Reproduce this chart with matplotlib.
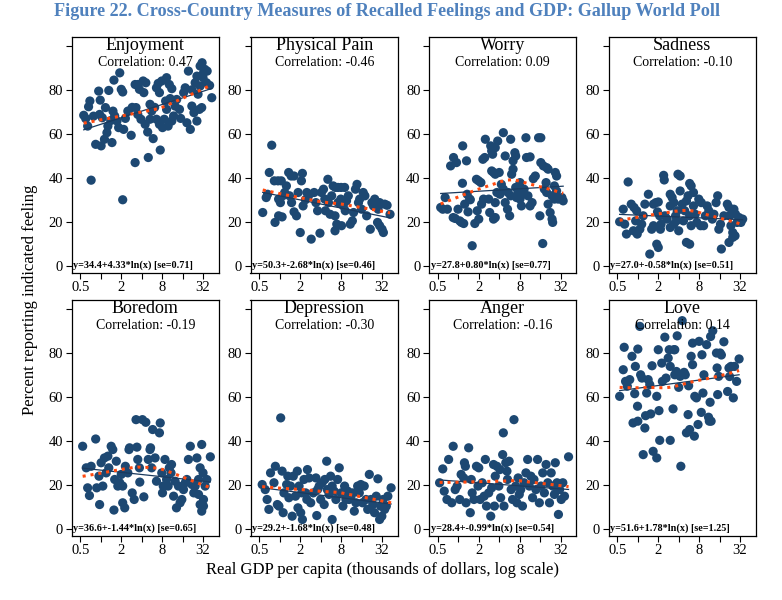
import numpy as np
import matplotlib.pyplot as plt
from matplotlib.ticker import FixedLocator, FixedFormatter, NullLocator
import matplotlib.transforms as mtransforms

plt.rcParams['font.family'] = ['Liberation Serif', 'DejaVu Serif']

feelings = ['Enjoyment', 'Physical Pain', 'Worry', 'Sadness',
            'Boredom', 'Depression', 'Anger', 'Love']
correlations = ['0.47', '-0.46', '0.09', '-0.10', '-0.19', '-0.30', '-0.16', '0.14']
# regression y = a + b*ln(GDP in dollars)
intercepts = [34.4, 50.3, 27.8, 27.0, 36.6, 29.2, 28.4, 51.6]
slopes = [4.33, -2.68, 0.80, -0.58, -1.44, -1.68, -0.99, 1.78]
std_errs = ['0.71', '0.46', '0.77', '0.51', '0.65', '0.48', '0.54', '1.25']

x_ticks = [0.5, 1, 2, 4, 8, 16, 32]
x_tick_labels = ['0.5', '', '2', '', '8', '', '32']
y_ticks = [0, 20, 40, 60, 80, 100]
y_tick_labels = ['0', '20', '40', '60', '80', '']

# (GDP per capita in thousands, percent reporting)
enjoyment = [
    (0.56, 68.4), (0.6, 66.9), (0.66, 72.3), (0.69, 74.9), (0.72, 38.9), (0.84, 55.2),
    (0.93, 79.4), (0.98, 75.3), (0.96, 68.8), (1.05, 67.3), (1.01, 54.5), (1.13, 57.5),
    (1.23, 60.5), (1.17, 71.9), (1.31, 79.7), (1.56, 84.4), (1.51, 70.3), (1.6, 68.1),
    (1.73, 65.8), (1.83, 62.8), (1.46, 56), (1.9, 87.7), (2.0, 80.2), (2.1, 79),
    (2.17, 62), (2.1, 30), (2.5, 70.3), (2.8, 59.3), (3.2, 46.9), (3.2, 82.4),
    (3.5, 82.4), (3.7, 80.2), (3.3, 71.9), (3.5, 68.8), (3.9, 66.6), (4.2, 84),
    (4.6, 83.2), (4.3, 78.7), (5.0, 49.2), (4.9, 60.8), (4.5, 64.3), (5.3, 66.6),
    (5.6, 70.3), (5.3, 73.4), (5.9, 57.8), (6.6, 80.9), (7.0, 82.9), (7.3, 78.7),
    (7.9, 84), (7.5, 52.6), (6.6, 66.6), (7.3, 64.3), (8.1, 62.8), (8.6, 66.6),
    (9.3, 71.1), (9.0, 74.9), (9.3, 85.5), (10.2, 82.4), (11.1, 80.5), (9.8, 63.5),
    (11.1, 65.8), (11.8, 68.1), (12.4, 72.6), (13.1, 75.6), (14.4, 71.1), (16.6, 78.7),
    (17.5, 80.9), (18.5, 65), (20.8, 62), (19.5, 88.5), (21.9, 72.6), (23.5, 69.6),
    (24.5, 83.2), (26, 86.2), (26, 65.8), (28.3, 71.1), (30.6, 71.9), (29, 90.8),
    (31, 92.3), (32.5, 87.7), (34, 89.3), (32, 85.5), (36, 83.2), (36.8, 88.5),
    (29, 81.7), (43, 76.4), (1.27, 63.5), (0.64, 63.5), (0.78, 68), (1.4, 66),
    (2.3, 67), (2.9, 72), (6.2, 72), (10.5, 76), (15, 67), (22, 80), (27, 78), (40, 82),
]
physical_pain = [
    (0.56, 24.2), (0.63, 31), (0.66, 32.5), (0.7, 42.4), (0.76, 54.8), (0.83, 38.6),
    (0.94, 38.6), (1.05, 38.6), (0.85, 19.7), (0.96, 22.7), (1.08, 22.2), (0.96, 30.3),
    (1.02, 28.7), (1.1, 31.8), (1.18, 33.3), (1.25, 36.3), (1.35, 42.4), (1.47, 40.8),
    (1.62, 40.8), (1.39, 31.8), (1.49, 28.7), (1.62, 24.5), (1.76, 22.7), (1.86, 33.3),
    (2.08, 38.6), (2.15, 42), (2.0, 15.1), (2.2, 27.2), (2.38, 30), (2.5, 33.3),
    (2.65, 31.8), (2.9, 12.1), (3.2, 33.3), (3.4, 28.7), (3.6, 25), (3.9, 14.8),
    (4.1, 33.3), (4.4, 34.8), (4.6, 30.3), (4.7, 25), (5.1, 39.3), (5.2, 28.7),
    (5.5, 23.4), (5.8, 31.8), (6.1, 36.3), (6.6, 35.6), (7.2, 35.6), (8, 35.6),
    (9, 35.6), (6.5, 22.7), (6.9, 18.9), (6.5, 15.9), (7.2, 28.7), (7.9, 30.3),
    (8.6, 27.2), (9.2, 25), (9.6, 29.5), (10.2, 31.8), (8.1, 18.2), (10.9, 18.9),
    (11.7, 20.4), (12.2, 24.2), (13, 34.8), (13.7, 37), (14.4, 28.7), (15, 30.3),
    (16, 25.7), (16.9, 33.3), (17.9, 31.8), (19, 22.7), (21.5, 16.6), (22.7, 28.7),
    (23.9, 27.2), (25, 30.3), (26.7, 28.7), (28, 25.7), (29.5, 28.7), (27.5, 19.7),
    (29.5, 18.2), (32, 16.6), (33.5, 15.1), (35, 28), (38, 27.5), (42, 23.4),
]
worry = [
    (0.55, 26.5), (0.59, 25.7), (0.64, 31), (0.69, 25.7), (0.77, 45.4), (0.85, 49.2),
    (0.94, 46.9), (0.84, 21.9), (0.9, 21.5), (0.99, 25.7), (1.05, 20.4), (1.11, 19.7),
    (1.2, 19.2), (1.15, 37.5), (1.16, 54.5), (1.32, 47.7), (1.24, 28), (1.35, 32.5),
    (1.47, 30.3), (1.5, 30), (1.39, 24.5), (1.6, 9.1), (1.75, 19.2), (1.9, 25),
    (2.0, 21.2), (1.85, 39.3), (1.99, 38.6), (2.15, 37.8), (2.3, 48.4), (2.45, 49.2),
    (2.2, 28), (2.35, 30.3), (2.5, 57.5), (2.8, 30.3), (2.9, 24.2), (3.0, 54.5),
    (3.1, 52.2), (3.2, 50.7), (3.1, 43.1), (3.3, 42.4), (3.5, 41.6), (3.3, 21.2),
    (3.5, 21.9), (3.5, 28.7), (3.7, 33.3), (3.5, 53.7), (3.8, 56.7), (4.0, 42.4),
    (4.3, 37), (4.6, 60.5), (4.9, 49.9), (4.1, 32.5), (4.6, 34.8), (4.9, 28.7),
    (5.3, 25.7), (5.7, 22.7), (5.4, 33.3), (5.9, 31.8), (5.9, 57.5), (6.4, 43.9),
    (6.1, 41.6), (6.4, 47.7), (7.0, 49.9), (6.8, 51.4), (7.0, 35.6), (7.6, 33.3),
    (8.1, 30.3), (8.5, 27.2), (7.2, 31), (8.8, 32.5), (8.1, 37.8), (9.9, 58.2),
    (11.4, 49.5), (10.1, 49.2), (9.3, 34.8), (10.6, 31.8), (11.4, 27.2), (12.2, 28.7),
    (12.7, 39.6), (13.6, 40.8), (15.2, 58.2), (16.4, 58.2), (15.9, 22.7), (16.4, 46.9),
    (17.9, 45.4), (20, 44.6), (21, 43.9), (17.5, 10.1), (18.5, 34.8), (19.6, 37.8),
    (20, 33.3), (21, 28), (22.5, 24.2), (24, 21.2), (24.5, 19.7), (24, 31.8),
    (26, 30.3), (26, 36.3), (28, 34), (26.8, 42.4), (28, 40.8), (29.6, 30.3),
    (33.5, 31), (35, 29.5),
]
sadness = [
    (0.54, 20), (0.61, 25.7), (0.64, 18.9), (0.68, 14.4), (0.72, 38.1), (0.8, 28),
    (0.88, 26.5), (0.93, 20.4), (0.96, 25), (0.86, 15.9), (0.98, 14.4), (1.07, 16.6),
    (1.14, 18.9), (1.2, 22.7), (1.27, 28), (1.43, 32.5), (1.5, 5.3), (1.6, 16.6),
    (1.7, 18.2), (1.7, 28), (1.84, 28.7), (2.0, 29), (1.9, 9.8), (2.0, 8.3),
    (1.95, 24.5), (2.1, 22.7), (2.2, 18.9), (2.15, 16.6), (2.4, 41.1), (2.45, 39),
    (2.5, 22.7), (2.7, 21.2), (3.0, 27.2), (3.0, 17.4), (3.0, 32.5), (3.2, 31),
    (3.4, 28.7), (3.6, 22.7), (3.7, 20.4), (3.4, 18.9), (3.8, 25), (3.9, 41.6),
    (4.2, 40.8), (4.0, 15.9), (4.2, 34), (4.5, 28), (4.7, 20.4), (4.9, 25),
    (5.2, 29.5), (5.2, 10.6), (5.8, 9.8), (5.5, 31.8), (5.8, 37.4), (6.1, 36.3),
    (5.8, 22.7), (6.1, 18.2), (6.6, 27.2), (6.6, 33.3), (7.0, 23.4), (7.4, 19.7),
    (7.9, 30.3), (8.6, 28.7), (8.4, 18.2), (9.3, 18.2), (9.9, 22.7), (10.5, 27.2),
    (11.1, 25), (12.5, 21.2), (13.2, 23.4), (14.2, 28.7), (15, 31.8), (15.6, 16.6),
    (16.5, 18.9), (17, 7.6), (18.5, 22.7), (20.8, 28), (22, 26.5), (22.5, 22.7),
    (23.5, 18.2), (25, 15.1), (22, 10.6), (26, 25.7), (27.5, 23.4), (29, 19.7),
    (25, 12.9), (27, 13.6), (31, 21.9), (33, 19.7), (35, 21.2),
]
boredom = [
    (0.54, 37.5), (0.61, 27.7), (0.64, 18.6), (0.68, 15.1), (0.72, 28.4), (0.84, 40.8),
    (0.87, 18.6), (0.94, 23.9), (0.96, 11), (1.01, 30), (1.07, 19.4), (1.13, 32.2),
    (1.2, 25.4), (1.27, 33), (1.31, 27.7), (1.42, 37.5), (1.5, 36), (1.56, 8.5),
    (1.6, 22.4), (1.69, 30.7), (1.78, 19.4), (1.9, 20.9), (2.0, 24.7), (2.1, 19.4),
    (2.1, 11.8), (2.25, 9.5), (2.3, 28.4), (2.5, 25.4), (2.6, 36), (2.65, 36.8),
    (2.9, 16.3), (3.1, 13.3), (3.3, 49.6), (3.4, 37.1), (3.5, 31.5), (3.7, 27.7),
    (3.75, 21.2), (4.1, 49.6), (4.3, 14.5), (4.6, 48.4), (5.0, 31.5), (5.3, 36),
    (5.6, 27.7), (5.4, 36.8), (5.8, 45.1), (6.3, 32.2), (6.6, 21.6), (7.3, 43.6),
    (7.5, 48.1), (7.9, 25.4), (8.3, 19.4), (8.1, 16.3), (8.8, 31.5), (9.3, 22.4),
    (9.8, 19.4), (10.2, 27.7), (10.8, 25.4), (11, 29.2), (11.8, 14.8), (12.4, 21.6),
    (13, 9.5), (13.9, 19.4), (14.7, 11.8), (15.6, 13.3), (16.5, 17.8), (17.5, 20.9),
    (18.5, 22.4), (19.5, 31.5), (20.8, 37.5), (22, 20.1), (23.4, 16.3), (24.5, 19.4),
    (26, 32.2), (27.5, 15.6), (29, 27.7), (30.6, 38.3), (32, 25.4), (30.6, 8),
    (32.5, 13.3), (34.4, 19.4), (36.4, 22.4), (41, 32.7), (29, 11), (27.5, 22.4),
    (32.5, 10.3),
]
depression = [
    (0.55, 20.1), (0.61, 17.8), (0.65, 13.3), (0.69, 8.8), (0.73, 25.4), (0.82, 20.9),
    (0.86, 28.4), (0.92, 11), (1.03, 50.4), (0.97, 10.3), (1.08, 26.2), (1.12, 7.3),
    (1.15, 16.3), (1.26, 20.1), (1.31, 23.9), (1.36, 14.1), (1.44, 19.4), (1.52, 5.7),
    (1.58, 23.9), (1.7, 14.8), (1.81, 26.2), (1.85, 9.5), (1.92, 19.4), (2.03, 7.3),
    (2.1, 16.3), (2.15, 4.2), (2.27, 22.4), (2.4, 16.3), (2.5, 13.3), (2.55, 26.9),
    (2.7, 23.1), (2.85, 11.8), (3.1, 16.3), (3.4, 23.1), (3.5, 6), (3.6, 17.8),
    (3.8, 19.4), (4.0, 13.3), (4.2, 20.9), (4.5, 11), (4.6, 22.4), (4.9, 30.7),
    (5.0, 17.8), (5.3, 15.6), (5.6, 23.9), (5.9, 19.4), (5.9, 4.2), (6.3, 17.1),
    (6.7, 13.3), (7.1, 22.4), (7.5, 27.7), (8.0, 16.3), (8.5, 10.3), (9.0, 19.4),
    (9.4, 13.3), (10, 17.1), (10.5, 13.3), (11.2, 14.8), (11.8, 16.3), (12.5, 8),
    (13.2, 11.8), (14, 19.4), (14.8, 16.3), (15.6, 20.1), (16.5, 11.8), (17.5, 19.4),
    (18.6, 13.3), (19.7, 8.8), (20.8, 24.7), (22, 13.3), (23.4, 11), (24.8, 7.3),
    (26.3, 14.8), (27.8, 22.7), (29.5, 4.2), (30.5, 10.3), (31.8, 5.7), (33, 13.3),
    (35, 8.8), (37, 10.3), (39, 14.8), (43.5, 18.6),
]
anger = [
    (0.53, 20.9), (0.59, 27.2), (0.62, 17.1), (0.68, 13.3), (0.72, 31.5), (0.8, 11.8),
    (0.84, 37.5), (0.9, 17.8), (0.96, 19.4), (1.05, 13.3), (1.1, 24.7), (1.2, 23.1),
    (1.23, 30), (1.27, 28.4), (1.3, 11.8), (1.42, 36.8), (1.5, 7.3), (1.55, 22.4),
    (1.6, 16.3), (1.7, 13.3), (1.85, 28.4), (2.0, 27.7), (1.95, 19.4), (2.1, 13.3),
    (2.25, 20.9), (2.4, 14.8), (2.5, 31.5), (2.6, 10.3), (2.8, 16.3), (3.0, 5.7),
    (3.1, 18.6), (3.3, 29.2), (3.4, 10.3), (3.5, 23.9), (3.7, 28.4), (3.95, 19.4),
    (4.1, 26.9), (4.2, 14.1), (4.5, 33.7), (4.6, 43.6), (4.7, 10.3), (5.0, 30),
    (5.2, 26.2), (5.3, 22.4), (5.6, 30.7), (6.0, 17.8), (6.3, 13.3), (6.6, 49.6),
    (7.0, 19.4), (7.3, 11.8), (7.6, 23.1), (7.9, 15.6), (8.3, 17.8), (8.8, 10.3),
    (9.3, 20.9), (9.9, 25.4), (10.5, 31.5), (11.1, 19.4), (11.7, 23.9), (12.4, 14.1),
    (13, 22.4), (13.9, 17.8), (14.7, 31.5), (15.6, 11.8), (16.5, 19.4), (17.5, 25.4),
    (18.5, 16.3), (19.6, 29.2), (20.8, 20.9), (22, 11.8), (23.3, 25.4), (24.6, 19.4),
    (26, 15.6), (26.8, 30), (28.4, 20.9), (29.8, 6.5), (31, 17.8), (32.8, 13.3),
    (34.6, 20.9), (36.6, 14.8), (42, 32.7),
]
love = [
    (0.54, 60.2), (0.61, 72.3), (0.63, 82.5), (0.66, 67), (0.7, 64.8), (0.76, 67.8),
    (0.82, 78.4), (0.9, 61.4), (0.92, 73.8), (0.99, 55.7), (1.0, 81.7), (0.85, 48.1),
    (1.0, 48.9), (1.07, 92), (1.1, 70), (1.15, 68.5), (1.2, 33.7), (1.27, 45.8),
    (1.3, 51.4), (1.35, 61.7), (1.42, 67.8), (1.5, 65.5), (1.55, 52.2), (1.62, 74.1),
    (1.68, 35.2), (1.9, 32.2), (1.9, 60.2), (2.0, 81.4), (2.05, 53.7), (2.1, 40.2),
    (2.25, 75.3), (2.3, 67), (2.5, 87.1), (2.6, 68.5), (2.8, 77.6), (2.9, 81.4),
    (3.0, 73.8), (3.0, 40.2), (3.3, 54.5), (3.4, 81.4), (3.5, 81.4), (3.5, 70),
    (3.7, 71.5), (3.8, 87.7), (4.0, 64.3), (4.2, 69.3), (4.3, 28.4), (4.5, 94.6),
    (4.8, 71.1), (5.0, 70), (5.2, 43.6), (5.5, 51.9), (5.6, 65), (5.8, 45.1),
    (6.1, 78.4), (6.4, 74.6), (6.4, 84.4), (6.9, 60.2), (7.3, 59.5), (6.8, 42.1),
    (7.7, 47.4), (8.0, 85.2), (8.6, 52.9), (8.8, 79.1), (9.1, 61.7), (9.4, 70),
    (10.3, 83.7), (11.0, 50.7), (11.3, 48.9), (12, 48.9), (11.6, 57.5), (11.8, 87.4),
    (12.7, 90), (14.4, 79.9), (14.7, 73.1), (15, 61), (15.5, 69.3), (16.3, 79.9),
    (18.5, 85), (21, 62.4), (22, 73.1), (23.5, 73.8), (25.5, 59.5), (26.5, 73.8),
    (28.5, 67), (31, 77.2), (17, 79), (22.5, 69.2),
]
panel_data = [enjoyment, physical_pain, worry, sadness, boredom, depression, anger, love]


def lowess(x, y, frac=0.8):
    lx = np.log(x)
    order = np.argsort(lx)
    lx, y = lx[order], y[order]
    n = len(lx)
    k = int(np.ceil(frac * n))
    fit = np.empty(n)
    for i in range(n):
        d = np.abs(lx - lx[i])
        h = np.sort(d)[k - 1]
        w = np.clip(1 - (d / h) ** 3, 0, None) ** 3
        A = np.vstack([np.ones(n), lx - lx[i]]).T
        beta = np.linalg.solve(A.T @ (A * w[:, None]), A.T @ (w * y))
        fit[i] = beta[0]
    return np.exp(lx), fit


fig = plt.figure(figsize=(7.82, 6.0), dpi=100)
W, H = 782.0, 600.0
lefts = [71.5, 250.5, 429, 608.5]
tops = [37, 300]
ax_w, ax_h = 147.5, 236

dot_color = '#1d4872'

for i, name in enumerate(feelings):
    r, c = divmod(i, 4)
    ax = fig.add_axes([lefts[c] / W, 1 - (tops[r] + ax_h) / H, ax_w / W, ax_h / H])
    pts = np.array(panel_data[i])
    gx, gy = pts[:, 0], pts[:, 1]
    ax.scatter(gx, gy, s=44, color=dot_color, edgecolors='none', zorder=2)

    xs = np.linspace(gx.min(), gx.max(), 100)
    ax.plot(xs, intercepts[i] + slopes[i] * np.log(xs * 1000), color='#1a3a5e', lw=0.9, zorder=3)
    lx, ly = lowess(gx, gy)
    ax.plot(lx, ly, color='#ff4a10', lw=2.2, ls=(0, (1, 1.6)), zorder=4)

    ax.set_xscale('log')
    ax.set_xlim(0.37, 55)
    ax.set_ylim(-3.3, 104)
    ax.xaxis.set_major_locator(FixedLocator(x_ticks))
    ax.xaxis.set_major_formatter(FixedFormatter(x_tick_labels))
    ax.xaxis.set_minor_locator(NullLocator())
    ax.yaxis.set_major_locator(FixedLocator(y_ticks))
    ax.yaxis.set_major_formatter(FixedFormatter(y_tick_labels))
    ax.tick_params(length=4, width=0.8, labelsize=10.5, pad=2)
    for sp in ax.spines.values():
        sp.set_linewidth(0.9)

    ax.text(0.5, 0.965, name, transform=ax.transAxes, ha='center', va='center', fontsize=13)
    ax.text(0.5, 0.89, 'Correlation: ' + correlations[i], transform=ax.transAxes,
            ha='center', va='center', fontsize=10)
    trans = mtransforms.blended_transform_factory(ax.transAxes, ax.transData)
    eq = 'y=%.1f+%.2f*ln(x) [se=%s]' % (intercepts[i], slopes[i], std_errs[i])
    ax.text(0.012, 0.3, eq, transform=trans, ha='left', va='center', fontsize=7.3,
            fontweight='bold')

fig.text(387 / W, 1 - 12 / H,
         'Figure 22. Cross-Country Measures of Recalled Feelings and GDP: Gallup World Poll',
         ha='center', va='center', fontsize=13.1, fontweight='bold', color='#4f81bd')
fig.text(382 / W, 1 - 570 / H, 'Real GDP per capita (thousands of dollars, log scale)',
         ha='center', va='center', fontsize=12)
fig.text(30 / W, 1 - 300 / H, 'Percent reporting indicated feeling',
         ha='center', va='center', rotation=90, fontsize=12)

fig.savefig('out.png', dpi=100)
